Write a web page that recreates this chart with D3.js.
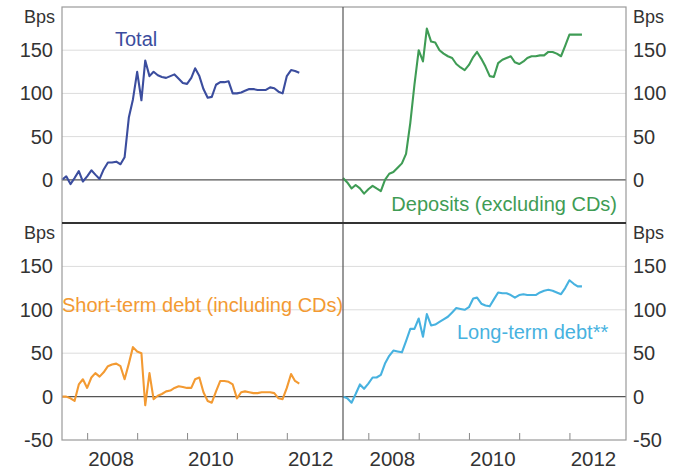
<!DOCTYPE html>
<html><head><meta charset="utf-8">
<script src="https://cdn.jsdelivr.net/npm/d3@7"></script>
<style>
html,body{margin:0;padding:0;background:#fff;}
svg{display:block;font-family:"Liberation Sans",Arial,sans-serif;}
</style></head>
<body>
<svg id="chart" width="681" height="469"></svg>
<script>
// Monthly observations, Jul 2007 – Apr 2012
const startMonth = new Date(2007, 6, 1);
const endMonth = new Date(2012, 4, 1);
const total = [0,4,-5,2,10,-2,4,11,6,1,12,20,20,21,18,26,72,93,125,92,138,120,125,121,119,118,120,122,117,112,111,118,129,120,105,95,96,110,113,113,114,100,100,101,103,105,105,104,104,104,107,106,102,100,120,127,126,124];
const deposits = [2,-3,-10,-6,-10,-16,-11,-7,-10,-13,0,7,9,14,19,30,66,110,150,137,175,160,159,150,146,143,141,134,130,127,133,142,148,140,131,120,119,135,139,141,143,136,134,137,141,143,143,144,144,148,148,146,143,155,168,168,168,168];
const shortTerm = [0,0,-2,-5,14,20,10,22,27,23,28,35,37,38,35,20,38,57,52,50,-10,27,-3,1,3,6,7,10,12,11,10,10,20,22,5,-5,-7,6,18,18,17,14,-2,5,6,5,4,4,5,5,5,4,-2,-3,10,26,18,15];
const longTerm = [0,-2,-7,3,14,9,15,22,22,25,38,47,53,52,51,64,78,78,90,69,95,82,83,86,89,92,97,102,101,100,103,113,114,107,105,104,112,120,119,119,117,114,117,118,117,117,117,120,122,123,122,120,118,125,134,130,127,127];
const yTicks = [-50, 0, 50, 100, 150];
const yDomain = [-50, 200];
const xTickYears = [2008, 2009, 2010, 2011, 2012];
const xLabelYears = [2008, 2010, 2012];
const seriesNames = ["Total", "Deposits (excluding CDs)", "Short-term debt (including CDs)", "Long-term debt**"];

const dates = d3.timeMonth.range(startMonth, endMonth);

const svg = d3.select("#chart");
const L = {x0: 62, x1: 343}, R = {x0: 343, x1: 626};
const T = {y0: 7, y1: 223}, B = {y0: 223, y1: 440};

const panels = [
  {name: seriesNames[0], values: total, col: L, row: T, color: "#3b4d9e", lx: 115, ly: 39, anchor: "start", side: "left", showMinus: false, xlab: false},
  {name: seriesNames[1], values: deposits, col: R, row: T, color: "#3f9c55", lx: 617, ly: 204, anchor: "end", side: "right", showMinus: false, xlab: false},
  {name: seriesNames[2], values: shortTerm, col: L, row: B, color: "#f39a32", lx: 62, ly: 305, anchor: "start", side: "left", showMinus: true, xlab: true},
  {name: seriesNames[3], values: longTerm, col: R, row: B, color: "#47b2e0", lx: 457, ly: 332, anchor: "start", side: "right", showMinus: true, xlab: true}
];

const textCol = "#333";
const fmt = d => String(d); // plain hyphen minus

panels.forEach(p => {
  const x = d3.scaleTime().domain([new Date(2007, 6, 1), new Date(2013, 1, 15)]).range([p.col.x0, p.col.x1]);
  const y = d3.scaleLinear().domain(yDomain).range([p.row.y1, p.row.y0]);
  const g = svg.append("g");

  // grid lines
  g.selectAll("line.grid").data(yTicks.filter(t => t > 0)).enter().append("line")
    .attr("x1", p.col.x0).attr("x2", p.col.x1)
    .attr("y1", d => y(d)).attr("y2", d => y(d))
    .attr("stroke", "#dcdcdc").attr("stroke-width", 1);
  // zero line
  g.append("line").attr("x1", p.col.x0).attr("x2", p.col.x1)
    .attr("y1", y(0)).attr("y2", y(0)).attr("stroke", "#555").attr("stroke-width", 1.2);

  // y axis labels
  const axis = (p.side === "left" ? d3.axisLeft(y) : d3.axisRight(y))
    .tickValues(yTicks.filter(t => p.showMinus || t >= 0)).tickSize(0).tickPadding(0).tickFormat(fmt);
  const ax = g.append("g")
    .attr("transform", `translate(${p.side === "left" ? 53 : 633},0)`)
    .call(axis);
  ax.select(".domain").remove();
  ax.selectAll("text").attr("font-size", 20).attr("fill", textCol)
    .attr("font-family", "Liberation Sans, Arial, sans-serif");
  g.append("text").attr("x", p.side === "left" ? 55 : 633).attr("y", p.row.y0 + 10)
    .attr("text-anchor", p.side === "left" ? "end" : "start")
    .attr("dominant-baseline", "central")
    .attr("font-size", 18).attr("fill", textCol).text("Bps");

  // x ticks
  if (p.xlab) {
    const xa = g.append("g").attr("transform", `translate(0,${p.row.y1})`)
      .call(d3.axisBottom(x).tickValues(xTickYears.map(yr => new Date(yr, 0, 1))).tickSize(-7).tickFormat(""));
    xa.select(".domain").remove();
    xa.selectAll("line").attr("stroke", "#888");
    const xl = g.append("g").attr("transform", `translate(0,${p.row.y1 + 8})`)
      .call(d3.axisBottom(x).tickValues(xLabelYears.map(yr => new Date(yr, 5, 20))).tickSize(0).tickFormat(d3.timeFormat("%Y")));
    xl.select(".domain").remove();
    xl.selectAll("text").attr("font-size", 20.5).attr("fill", textCol)
      .attr("font-family", "Liberation Sans, Arial, sans-serif");
  }

  // series line
  const line = d3.line().x((d, i) => x(dates[i])).y(d => y(d));
  g.append("path").datum(p.values).attr("d", line)
    .attr("fill", "none").attr("stroke", p.color).attr("stroke-width", 2.1)
    .attr("stroke-linejoin", "round");

  g.append("text").attr("x", p.lx).attr("y", p.ly).attr("text-anchor", p.anchor)
    .attr("dominant-baseline", "central").attr("font-size", 20)
    .attr("fill", p.color).text(p.name);
});

// frame
svg.append("rect").attr("x", L.x0).attr("y", T.y0).attr("width", R.x1 - L.x0).attr("height", B.y1 - T.y0)
  .attr("fill", "none").attr("stroke", "#9a9a9a").attr("stroke-width", 1.2);
svg.append("line").attr("x1", L.x1).attr("x2", L.x1).attr("y1", T.y0).attr("y2", B.y1)
  .attr("stroke", "#555").attr("stroke-width", 1.2);
svg.append("line").attr("x1", L.x0).attr("x2", R.x1).attr("y1", T.y1).attr("y2", T.y1)
  .attr("stroke", "#333").attr("stroke-width", 2);
</script>
</body></html>
